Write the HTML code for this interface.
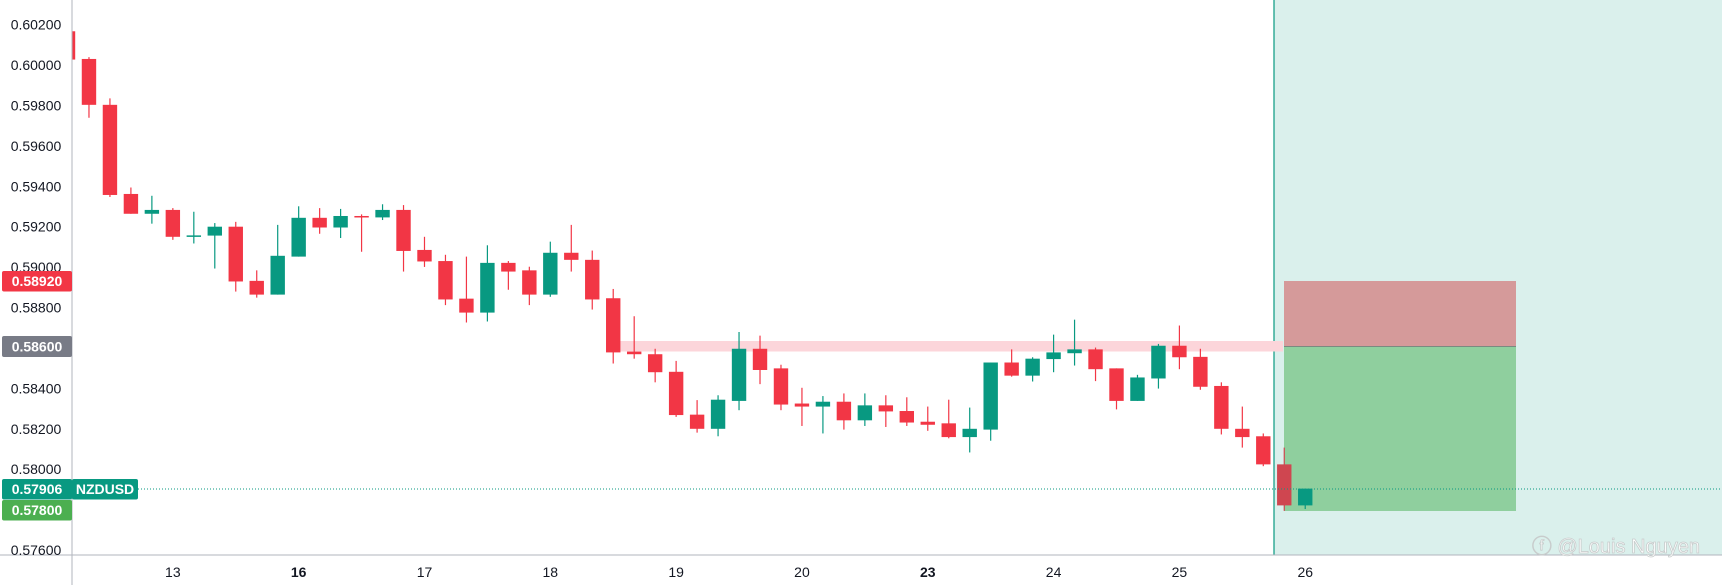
<!DOCTYPE html>
<html><head><meta charset="utf-8"><style>
html,body{margin:0;padding:0;background:#fff;}
svg{display:block;font-family:"Liberation Sans",sans-serif;}
</style></head><body>
<svg id="chart" width="1722" height="585" viewBox="0 0 1722 585" xmlns="http://www.w3.org/2000/svg">
<defs><clipPath id="plotclip"><rect x="72" y="0" width="1650" height="555"/></clipPath></defs>
<rect x="1274" y="0" width="448" height="555" fill="#daf0ec"/>
<line x1="1274" y1="0" x2="1274" y2="555" stroke="#089981" stroke-width="1.2"/>
<rect x="606" y="341" width="677" height="10.5" fill="#fcd5da"/>
<rect x="1284" y="281" width="232" height="65.5" fill="#d59a9a"/>
<rect x="1284" y="346.5" width="232" height="164.5" fill="#8fcf9e"/>
<line x1="1284" y1="346.5" x2="1516" y2="346.5" stroke="#7a8a80" stroke-width="1"/>
<g id="candles" clip-path="url(#plotclip)"></g>
<line x1="138" y1="489" x2="1722" y2="489" stroke="#089981" stroke-width="1" stroke-dasharray="1,2"/>
<line x1="72" y1="0" x2="72" y2="585" stroke="#b2b5be" stroke-width="1"/>
<line x1="0" y1="555" x2="1722" y2="555" stroke="#b2b5be" stroke-width="1"/>
<g id="yticks"></g>
<g id="xticks"></g>
<g>
<rect x="2" y="271" width="70" height="20.5" rx="2" fill="#f23645"/>
<text x="37" y="286" fill="#fff" font-size="14" font-weight="bold" text-anchor="middle">0.58920</text>
<rect x="2" y="336" width="70" height="21" rx="2" fill="#787b86"/>
<text x="37" y="351.5" fill="#fff" font-size="14" font-weight="bold" text-anchor="middle">0.58600</text>
<rect x="2" y="479" width="70" height="20.5" rx="2" fill="#089981"/>
<text x="37" y="494" fill="#fff" font-size="14" font-weight="bold" text-anchor="middle">0.57906</text>
<rect x="72" y="479" width="66" height="20.5" rx="2" fill="#089981"/>
<text x="105" y="494" fill="#fff" font-size="14" font-weight="bold" text-anchor="middle">NZDUSD</text>
<rect x="2" y="500" width="70" height="20.5" rx="2" fill="#4caf50"/>
<text x="37" y="515" fill="#fff" font-size="14" font-weight="bold" text-anchor="middle">0.57800</text>
</g>
<text x="1700" y="553" text-anchor="end" font-size="20" fill="#fff" stroke="#c8cccc" stroke-width="0.8">ⓕ @Louis Nguyen</text>
</svg>
<script>
const opens  = [.60167,.60030,.59803,.59362,.59264,.59283,.59154,.59156,.59200,.58932,.58864,.59052,.59244,.59196,.59253,.59246,.59283,.59085,.59030,.58844,.58775,.59021,.58984,.58864,.59071,.59036,.58846,.58582,.58569,.58482,.58270,.58200,.58338,.58596,.58499,.58325,.58310,.58334,.58242,.58316,.58288,.58235,.58227,.58159,.58196,.58528,.58463,.58545,.58574,.58593,.58499,.58338,.58449,.58611,.58556,.58412,.58200,.58163,.58024,.57821];
const highs  = [.60174,.60039,.59835,.59394,.59353,.59292,.59274,.59218,.59224,.58984,.59209,.59301,.59292,.59288,.59261,.59311,.59307,.59150,.59061,.59052,.59108,.59030,.59002,.59126,.59209,.59082,.58892,.58757,.58596,.58536,.58342,.58366,.58679,.58661,.58517,.58403,.58362,.58375,.58375,.58366,.58356,.58310,.58344,.58305,.58528,.58593,.58554,.58666,.58740,.58602,.58499,.58467,.58620,.58711,.58596,.58430,.58310,.58177,.58107,.57904];
const lows   = [.60027,.59739,.59347,.59264,.59215,.59135,.59117,.58993,.58879,.58849,.58864,.59052,.59165,.59144,.59076,.59233,.58978,.59001,.58812,.58726,.58731,.58888,.58812,.58853,.58978,.58790,.58523,.58547,.58430,.58259,.58181,.58163,.58292,.58421,.58292,.58214,.58177,.58196,.58214,.58209,.58214,.58190,.58153,.58083,.58141,.58458,.58434,.58480,.58513,.58436,.58296,.58338,.58399,.58495,.58393,.58172,.58107,.58015,.57794,.57803];
const closes = [.60027,.59803,.59357,.59264,.59283,.59150,.59157,.59200,.58929,.58864,.59056,.59244,.59196,.59253,.59248,.59283,.59080,.59028,.58840,.58775,.59021,.58978,.58864,.59071,.59036,.58840,.58578,.58569,.58480,.58268,.58200,.58344,.58596,.58491,.58320,.58310,.58334,.58242,.58316,.58286,.58231,.58220,.58159,.58200,.58528,.58463,.58547,.58578,.58593,.58495,.58338,.58454,.58611,.58554,.58408,.58200,.58159,.58024,.57821,.57904];
const yTickValues = [0.602,0.600,0.598,0.596,0.594,0.592,0.590,0.588,0.586,0.584,0.582,0.580,0.576];
const xTickLabels = ["13","16","17","18","19","20","23","24","25","26"];
const xTickIndex  = [5,11,17,23,29,35,41,47,53,59];
const xTickBold   = [false,true,false,false,false,false,true,false,false,false];

const NS="http://www.w3.org/2000/svg";
function yScale(p){return 24.6+(0.602-p)/0.002*40.42;}
function xScale(i){return 68+i*20.97;}
function mk(tag,attrs,parent){const e=document.createElementNS(NS,tag);for(const k in attrs)e.setAttribute(k,attrs[k]);parent.appendChild(e);return e;}

const cg=document.getElementById('candles');
for(let i=0;i<opens.length;i++){
  const up=closes[i]>=opens[i];
  let col=up?'#089981':'#f23645';
  if(i===58) col='#cf4650';
  const x=xScale(i);
  const g=mk('g',{},cg);
  
  
  const w=mk('line',{x1:x,x2:x,y1:yScale(highs[i]),y2:yScale(lows[i]),stroke:col,'stroke-width':1.2},g);
  
  
  const top=yScale(Math.max(opens[i],closes[i]));
  const bot=yScale(Math.min(opens[i],closes[i]));
  const b=mk('rect',{x:x-7.2,y:top,width:14.4,height:Math.max(1.5,bot-top),fill:col},g);
  
  
}
const yg=document.getElementById('yticks');
yTickValues.forEach(v=>{
  const t=mk('text',{x:36,y:yScale(v)+5,'font-size':14,fill:'#131722','text-anchor':'middle'},yg);
  t.textContent=v.toFixed(5);
  
  
});
const xg=document.getElementById('xticks');
xTickLabels.forEach((l,k)=>{
  const t=mk('text',{x:xScale(xTickIndex[k]),y:577,'font-size':14,fill:'#131722','text-anchor':'middle','font-weight':xTickBold[k]?'bold':'normal'},xg);
  t.textContent=l;
  
  
});
</script>
</body></html>
